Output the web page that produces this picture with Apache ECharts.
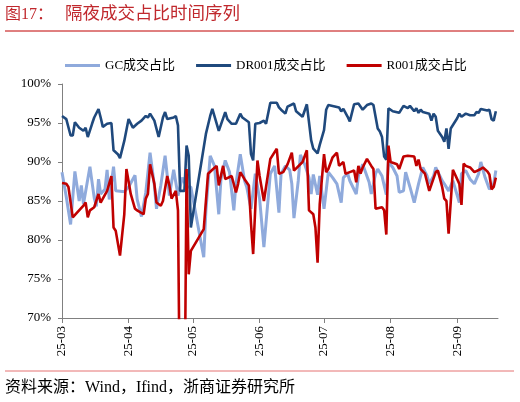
<!DOCTYPE html>
<html>
<head>
<meta charset="utf-8">
<script src="https://cdn.jsdelivr.net/npm/echarts@6/dist/echarts.min.js"></script>
<style>
html,body{margin:0;padding:0;background:#fff;}
#c{width:520px;height:402px;}
</style>
</head>
<body>
<div id="c"></div>
<script>
// ---- data (values in %) ----
const axisStart = '2025-03-01';
const axisEnd = '2025-09-20';
const seriesNames = ['GC成交占比', 'DR001成交占比', 'R001成交占比'];
const yTicks = [70, 75, 80, 85, 90, 95, 100];

const gcData = [
['2025-03-01',88.7],['2025-03-03',85.5],['2025-03-05',82.0],['2025-03-07',88.8],['2025-03-09',85.0],
['2025-03-10',87.0],['2025-03-11',84.6],['2025-03-14',89.4],['2025-03-16',85.4],['2025-03-17',84.3],
['2025-03-18',87.8],['2025-03-19',85.9],['2025-03-21',86.5],['2025-03-22',89.0],['2025-03-23',85.2],
['2025-03-25',89.4],['2025-03-26',86.3],['2025-03-30',86.2],['2025-04-01',86.8],['2025-04-04',88.3],
['2025-04-05',85.2],['2025-04-07',83.0],['2025-04-09',86.1],['2025-04-11',91.2],['2025-04-13',87.0],
['2025-04-14',84.0],['2025-04-16',87.0],['2025-04-18',90.8],['2025-04-20',85.7],['2025-04-22',89.0],
['2025-04-24',85.7],['2025-04-26',88.0],['2025-04-28',86.8],['2025-04-30',86.8],['2025-05-06',77.8],
['2025-05-07',83.8],['2025-05-09',90.8],['2025-05-11',89.5],['2025-05-13',83.3],['2025-05-14',87.8],
['2025-05-16',90.2],['2025-05-18',88.7],['2025-05-20',83.8],['2025-05-21',87.2],['2025-05-23',91.0],
['2025-05-25',87.6],['2025-05-26',86.8],['2025-05-28',84.0],['2025-05-30',88.5],['2025-06-01',85.3],
['2025-06-03',79.1],['2025-06-06',88.5],['2025-06-08',89.5],['2025-06-10',83.5],['2025-06-11',88.5],
['2025-06-13',89.5],['2025-06-15',89.0],['2025-06-16',87.2],['2025-06-17',82.8],['2025-06-19',87.6],
['2025-06-20',90.9],['2025-06-22',89.7],['2025-06-24',88.0],['2025-06-25',85.9],['2025-06-26',88.4],
['2025-06-28',85.8],['2025-06-29',88.2],['2025-07-01',84.0],['2025-07-03',88.7],['2025-07-05',88.0],
['2025-07-07',87.2],['2025-07-09',84.8],['2025-07-10',88.0],['2025-07-12',88.5],['2025-07-13',87.6],
['2025-07-16',85.9],['2025-07-17',88.2],['2025-07-19',89.7],['2025-07-22',87.4],['2025-07-23',85.9],
['2025-07-25',88.5],['2025-07-26',89.1],['2025-07-28',88.2],['2025-07-30',85.8],['2025-07-31',90.0],
['2025-08-02',89.3],['2025-08-04',88.2],['2025-08-05',86.1],['2025-08-07',86.3],['2025-08-08',88.7],
['2025-08-10',86.8],['2025-08-12',84.8],['2025-08-14',87.2],['2025-08-16',89.3],['2025-08-18',88.2],
['2025-08-19',87.2],['2025-08-21',88.2],['2025-08-22',89.3],['2025-08-25',87.6],['2025-08-26',87.2],
['2025-08-28',86.3],['2025-08-30',87.6],['2025-09-02',84.8],['2025-09-03',88.5],['2025-09-05',88.9],
['2025-09-07',87.8],['2025-09-09',87.2],['2025-09-11',88.5],['2025-09-12',90.0],['2025-09-14',88.0],
['2025-09-16',86.5],['2025-09-18',87.2],['2025-09-19',88.9]
];

const drData = [
['2025-03-01',95.9],['2025-03-03',95.5],['2025-03-05',93.4],['2025-03-06',93.4],['2025-03-07',95.1],
['2025-03-09',94.4],['2025-03-11',94.0],['2025-03-12',94.4],['2025-03-13',93.2],['2025-03-15',94.9],
['2025-03-16',95.7],['2025-03-18',96.8],['2025-03-19',95.7],['2025-03-20',94.5],['2025-03-22',94.9],
['2025-03-24',95.0],['2025-03-25',91.5],['2025-03-27',91.0],['2025-03-28',90.5],['2025-03-30',92.7],
['2025-04-01',95.5],['2025-04-03',94.4],['2025-04-05',94.9],['2025-04-07',95.3],['2025-04-09',95.9],
['2025-04-10',95.7],['2025-04-11',96.2],['2025-04-13',95.3],['2025-04-15',93.2],['2025-04-17',95.7],
['2025-04-18',96.4],['2025-04-19',95.5],['2025-04-22',95.7],['2025-04-23',95.9],['2025-04-24',94.7],
['2025-04-25',86.3],['2025-04-27',86.3],['2025-04-28',92.1],['2025-04-29',90.8],['2025-04-30',81.6],
['2025-05-07',93.6],['2025-05-09',95.9],['2025-05-10',96.8],['2025-05-13',94.0],['2025-05-16',96.4],
['2025-05-17',95.5],['2025-05-19',94.9],['2025-05-21',94.9],['2025-05-23',96.2],['2025-05-24',95.7],
['2025-05-27',95.1],['2025-05-28',91.0],['2025-05-29',90.2],['2025-05-30',94.9],['2025-06-01',95.0],
['2025-06-03',95.3],['2025-06-04',94.9],['2025-06-06',97.6],['2025-06-09',97.6],['2025-06-10',97.0],
['2025-06-11',96.7],['2025-06-13',96.2],['2025-06-14',97.1],['2025-06-17',97.5],['2025-06-18',96.5],
['2025-06-21',95.8],['2025-06-23',97.4],['2025-06-25',92.8],['2025-06-26',91.7],['2025-06-28',91.1],
['2025-06-29',92.2],['2025-07-01',94.1],['2025-07-02',96.7],['2025-07-03',97.3],['2025-07-08',97.0],
['2025-07-09',96.5],['2025-07-10',96.8],['2025-07-12',95.8],['2025-07-13',95.2],['2025-07-15',97.4],
['2025-07-17',97.5],['2025-07-19',96.7],['2025-07-21',97.3],['2025-07-23',97.5],['2025-07-24',97.3],
['2025-07-26',94.3],['2025-07-27',93.9],['2025-07-28',93.2],['2025-07-29',90.7],['2025-07-30',90.3],
['2025-07-31',96.9],['2025-08-02',96.5],['2025-08-05',96.3],['2025-08-07',97.2],['2025-08-09',96.9],
['2025-08-10',97.2],['2025-08-12',96.5],['2025-08-13',96.9],['2025-08-14',96.3],['2025-08-15',96.7],
['2025-08-16',96.4],['2025-08-19',96.2],['2025-08-20',95.3],['2025-08-21',96.2],['2025-08-22',95.8],
['2025-08-23',94.0],['2025-08-25',93.2],['2025-08-26',92.6],['2025-08-27',94.3],['2025-08-28',91.7],
['2025-08-29',94.3],['2025-09-01',95.6],['2025-09-02',96.2],['2025-09-03',95.8],['2025-09-05',96.2],
['2025-09-07',96.0],['2025-09-09',96.0],['2025-09-10',96.4],['2025-09-11',96.3],['2025-09-12',96.8],
['2025-09-15',96.6],['2025-09-16',96.7],['2025-09-17',95.5],['2025-09-18',95.3],['2025-09-19',96.5]
];

const rData = [
['2025-03-01',87.3],['2025-03-03',87.2],['2025-03-04',86.8],['2025-03-06',82.9],['2025-03-08',83.5],
['2025-03-11',84.4],['2025-03-12',84.8],['2025-03-13',82.9],['2025-03-14',83.8],['2025-03-16',84.2],
['2025-03-18',85.9],['2025-03-19',84.8],['2025-03-20',85.3],['2025-03-22',86.3],['2025-03-24',88.2],
['2025-03-25',81.6],['2025-03-26',81.2],['2025-03-28',78.0],['2025-03-30',83.3],['2025-03-31',89.1],
['2025-04-02',85.9],['2025-04-04',84.0],['2025-04-05',83.8],['2025-04-08',83.3],['2025-04-09',85.3],
['2025-04-10',85.9],['2025-04-11',89.7],['2025-04-13',87.2],['2025-04-14',84.8],['2025-04-16',84.4],
['2025-04-17',85.0],['2025-04-19',88.2],['2025-04-20',87.0],['2025-04-21',85.3],['2025-04-23',86.3],
['2025-04-24',83.8],['2025-04-25',55.0],['2025-04-27',55.0],['2025-04-28',89.1],['2025-04-29',75.6],
['2025-04-30',78.6],['2025-05-06',81.4],['2025-05-08',88.5],['2025-05-10',89.0],['2025-05-12',89.5],
['2025-05-13',87.0],['2025-05-15',89.5],['2025-05-16',87.8],['2025-05-19',88.2],['2025-05-21',86.1],
['2025-05-22',87.2],['2025-05-23',88.7],['2025-05-25',87.8],['2025-05-27',87.0],['2025-05-28',82.1],
['2025-05-29',78.2],['2025-05-31',90.2],['2025-06-01',88.2],['2025-06-03',85.0],['2025-06-04',86.8],
['2025-06-06',90.4],['2025-06-09',91.7],['2025-06-10',88.5],['2025-06-12',88.7],['2025-06-14',89.7],
['2025-06-16',91.2],['2025-06-17',88.9],['2025-06-21',90.0],['2025-06-23',91.5],['2025-06-24',83.8],
['2025-06-26',83.3],['2025-06-27',81.6],['2025-06-28',77.1],['2025-06-29',84.6],['2025-07-01',91.0],
['2025-07-02',88.7],['2025-07-03',89.1],['2025-07-05',90.6],['2025-07-07',91.2],['2025-07-08',89.5],
['2025-07-10',90.0],['2025-07-11',88.5],['2025-07-13',88.7],['2025-07-15',88.9],['2025-07-16',87.4],
['2025-07-17',89.5],['2025-07-18',88.5],['2025-07-19',89.3],['2025-07-21',90.4],['2025-07-23',89.5],
['2025-07-24',89.1],['2025-07-25',84.0],['2025-07-28',84.2],['2025-07-29',83.8],['2025-07-30',80.7],
['2025-07-31',92.1],['2025-08-01',90.0],['2025-08-04',89.7],['2025-08-05',89.1],['2025-08-07',90.7],
['2025-08-09',90.8],['2025-08-12',90.7],['2025-08-13',89.5],['2025-08-14',90.3],['2025-08-15',89.1],
['2025-08-17',88.5],['2025-08-19',86.3],['2025-08-22',88.7],['2025-08-23',88.9],['2025-08-25',86.8],
['2025-08-26',85.3],['2025-08-27',85.0],['2025-08-28',80.8],['2025-08-30',89.0],['2025-09-02',87.2],
['2025-09-03',84.5],['2025-09-04',89.8],['2025-09-05',89.5],['2025-09-07',89.3],['2025-09-09',88.7],
['2025-09-12',89.1],['2025-09-13',89.3],['2025-09-15',88.8],['2025-09-16',88.4],['2025-09-17',86.5],
['2025-09-18',86.8],['2025-09-19',88.0]
];

// ---- calendar-day category axis (built from start/end) ----
function pad(n){return n<10?'0'+n:''+n;}
const days = [];
(function(){
  const d = new Date(axisStart + 'T00:00:00Z');
  const end = new Date(axisEnd + 'T00:00:00Z');
  while (d <= end) {
    days.push(d.getUTCFullYear() + '-' + pad(d.getUTCMonth()+1) + '-' + pad(d.getUTCDate()));
    d.setUTCDate(d.getUTCDate() + 1);
  }
})();

const FONT = '"Liberation Serif", "Noto Sans CJK SC", serif';
const isMonthStart = (i, v) => v.slice(8) === '01';

const chart = echarts.init(document.getElementById('c'), null, {renderer: 'canvas'});
chart.setOption({
  animation: false,
  backgroundColor: '#ffffff',
  grid: {left: 62, right: 22, top: 84, bottom: 84, containLabel: false},
  legend: {
    left: 60, top: 54,
    icon: 'rect', itemWidth: 35, itemHeight: 3, itemGap: 21,
    textStyle: {fontFamily: FONT, fontSize: 13, color: '#000'},
    data: seriesNames
  },
  xAxis: {
    type: 'category',
    data: days,
    boundaryGap: false,
    axisLine: {lineStyle: {color: '#808080', width: 1}},
    axisTick: {show: true, interval: isMonthStart, length: 5, lineStyle: {color: '#808080'}},
    axisLabel: {
      interval: isMonthStart, rotate: 90, margin: 8,
      fontFamily: FONT, fontSize: 13, color: '#000',
      formatter: v => v.slice(2, 7)
    },
    splitLine: {show: false}
  },
  yAxis: {
    type: 'value',
    min: yTicks[0], max: yTicks[yTicks.length-1], interval: 5,
    axisLine: {show: true, lineStyle: {color: '#808080', width: 1}},
    axisTick: {show: true, length: 4, lineStyle: {color: '#808080'}},
    axisLabel: {margin: 11, fontFamily: FONT, fontSize: 13, color: '#000', formatter: '{value}%'},
    splitLine: {show: false}
  },
  series: [
    {name: seriesNames[0], type: 'line', data: gcData, symbol: 'none', clip: true,
     lineStyle: {color: '#8FAADC', width: 3}, itemStyle: {color: '#8FAADC'}},
    {name: seriesNames[1], type: 'line', data: drData, symbol: 'none', clip: true,
     lineStyle: {color: '#1F497D', width: 2.6}, itemStyle: {color: '#1F497D'}},
    {name: seriesNames[2], type: 'line', data: rData, symbol: 'none', clip: true,
     lineStyle: {color: '#C00000', width: 2.6}, itemStyle: {color: '#C00000'}}
  ],
  graphic: [
    {type: 'text', left: 5, top: 7, style: {text: '图17：', fill: '#C0282D', font: '16px ' + FONT}},
    {type: 'text', left: 65, top: 6, style: {text: '隔夜成交占比时间序列', fill: '#C0282D', font: '17.5px ' + FONT}},
    {type: 'line', shape: {x1: 5, y1: 31, x2: 514, y2: 31}, style: {stroke: '#C00000', lineWidth: 1}},
    {type: 'line', shape: {x1: 5, y1: 371, x2: 514, y2: 371}, style: {stroke: '#E57373', lineWidth: 1}},
    {type: 'text', left: 5, top: 380, style: {text: '资料来源：Wind，Ifind，浙商证券研究所', fill: '#000', font: '16px ' + FONT}}
  ]
});
</script>
</body>
</html>
